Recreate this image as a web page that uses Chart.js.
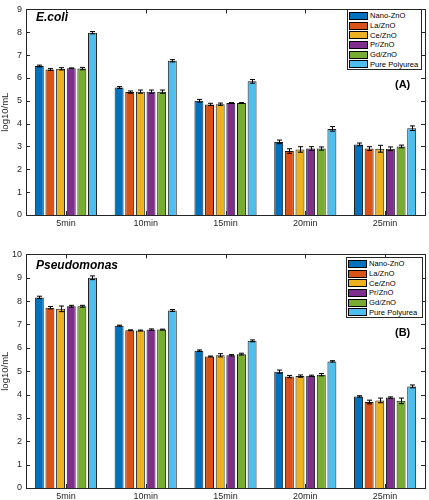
<!DOCTYPE html>
<html lang="en">
<head>
  <meta charset="UTF-8" />
  <title>E.coli / Pseudomonas log10/mL</title>
  <script src="https://cdn.jsdelivr.net/npm/chart.js"></script>
  <style>
    body {
      margin: 0;
      background: #fff;
      font-family: 'Liberation Sans', Arial, sans-serif;
    }
    .panel {
      position: absolute;
      left: 0;
      width: 429px;
    }
    #panelA { top: 0; height: 245px; }
    #panelB { top: 245px; height: 255px; }
    .legend {
      position: absolute;
      background: #fff;
      border: 1px solid #262626;
      box-sizing: border-box;
      padding: 1px 0 0 1px;
    }
    .legend .row {
      display: flex;
      align-items: center;
      height: 9.7px;
      font-size: 7.6px;
      color: #000;
      white-space: nowrap;
    }
    .legend .sw {
      flex: 0 0 auto;
      width: 17px;
      height: 6px;
      border: 1px solid #000;
      margin-right: 2px;
    }
    .organism {
      position: absolute;
      left: 36px;
      font: italic bold 12px 'Liberation Sans', Arial, sans-serif;
      color: #000;
    }
    .tag {
      position: absolute;
      left: 395px;
      font: bold 11px 'Liberation Sans', Arial, sans-serif;
      color: #000;
    }
  </style>
</head>
<body>
  <div class="panel" id="panelA">
    <canvas id="chartA"></canvas>
    <div class="organism" style="top:10px">E.coli</div>
    <div class="legend" id="legendA" style="left:347px; top:9px; width:75px; height:61px"></div>
    <div class="tag" style="top:78px">(A)</div>
  </div>
  <div class="panel" id="panelB">
    <canvas id="chartB"></canvas>
    <div class="organism" style="top:13px">Pseudomonas</div>
    <div class="legend" id="legendB" style="left:346px; top:12px; width:77px; height:61px"></div>
    <div class="tag" style="top:81px">(B)</div>
  </div>
  <script>
    const categories = ['5min', '10min', '15min', '20min', '25min'];
    const seriesNames = ['Nano-ZnO', 'La/ZnO', 'Ce/ZnO', 'Pr/ZnO', 'Gd/ZnO', 'Pure Polyurea'];
    const seriesColors = ['#0072BD', '#D95319', '#EDB120', '#7E2F8E', '#77AC30', '#4DBEEE'];

    // E.coli, one row per series (5min..25min)
    const ecoliValues = [
      [6.52, 5.58, 5.00, 3.20, 3.09],
      [6.37, 5.38, 4.84, 2.80, 2.91],
      [6.40, 5.40, 4.85, 2.87, 2.90],
      [6.42, 5.40, 4.90, 2.91, 2.90],
      [6.41, 5.40, 4.90, 2.91, 3.00],
      [7.98, 6.75, 5.85, 3.77, 3.80]
    ];
    const ecoliErrors = [
      [0.04, 0.04, 0.06, 0.08, 0.06],
      [0.04, 0.05, 0.05, 0.10, 0.08],
      [0.05, 0.07, 0.05, 0.12, 0.15],
      [0.02, 0.07, 0.02, 0.08, 0.08],
      [0.05, 0.07, 0.02, 0.07, 0.06],
      [0.05, 0.05, 0.08, 0.10, 0.10]
    ];

    // Pseudomonas
    const pseudoValues = [
      [8.16, 6.95, 5.88, 4.98, 3.92],
      [7.72, 6.75, 5.63, 4.77, 3.68],
      [7.67, 6.74, 5.68, 4.79, 3.75],
      [7.78, 6.78, 5.68, 4.80, 3.87],
      [7.78, 6.78, 5.73, 4.85, 3.73],
      [9.00, 7.60, 6.30, 5.42, 4.35]
    ];
    const pseudoErrors = [
      [0.05, 0.02, 0.03, 0.07, 0.03],
      [0.05, 0.02, 0.02, 0.05, 0.08],
      [0.12, 0.02, 0.07, 0.05, 0.10],
      [0.04, 0.03, 0.03, 0.03, 0.03],
      [0.04, 0.02, 0.04, 0.05, 0.12],
      [0.08, 0.04, 0.04, 0.03, 0.06]
    ];

    const axisColor = '#262626';

    // error bars + matlab style box with inward ticks
    const matlabAxes = {
      id: 'matlabAxes',
      afterDatasetsDraw(chart) {
        const errs = chart.options.plugins.matlabAxes.errors;
        const ys = chart.scales.y;
        const ctx = chart.ctx;
        ctx.save();
        ctx.strokeStyle = '#000';
        ctx.lineWidth = 1;
        chart.data.datasets.forEach((ds, i) => {
          const meta = chart.getDatasetMeta(i);
          meta.data.forEach((bar, j) => {
            const v = ds.data[j], e = errs[i][j];
            const x = Math.round(bar.x) + 0.5;
            const y1 = ys.getPixelForValue(v + e);
            const y2 = ys.getPixelForValue(v - e);
            ctx.beginPath();
            ctx.moveTo(x, y1); ctx.lineTo(x, y2);
            ctx.moveTo(x - 2.5, y1); ctx.lineTo(x + 2.5, y1);
            ctx.moveTo(x - 2.5, y2); ctx.lineTo(x + 2.5, y2);
            ctx.stroke();
          });
        });
        ctx.restore();
      },
      afterDraw(chart) {
        const a = chart.chartArea;
        const ctx = chart.ctx;
        const xs = chart.scales.x, ys = chart.scales.y;
        ctx.save();
        ctx.strokeStyle = axisColor;
        ctx.lineWidth = 1;
        ctx.strokeRect(Math.round(a.left) + 0.5, Math.round(a.top) + 0.5,
          Math.round(a.right - a.left), Math.round(a.bottom - a.top));
        ctx.beginPath();
        xs.ticks.forEach((t, k) => {
          const x = Math.round(xs.getPixelForTick(k)) + 0.5;
          ctx.moveTo(x, a.bottom); ctx.lineTo(x, a.bottom - 4);
          ctx.moveTo(x, a.top); ctx.lineTo(x, a.top + 4);
        });
        ys.ticks.forEach((t, k) => {
          const y = Math.round(ys.getPixelForTick(k)) + 0.5;
          ctx.moveTo(a.left, y); ctx.lineTo(a.left + 4, y);
          ctx.moveTo(a.right, y); ctx.lineTo(a.right - 4, y);
        });
        ctx.stroke();
        ctx.restore();
      }
    };

    function makeChart(id, values, errors, yMax, padTop, xHeight) {
      return new Chart(document.getElementById(id), {
        type: 'bar',
        data: {
          labels: categories,
          datasets: seriesNames.map((name, i) => ({
            label: name,
            data: values[i],
            backgroundColor: seriesColors[i],
            borderColor: '#1a1a1a',
            borderWidth: 1,
            categoryPercentage: 0.8,
            barPercentage: 0.84
          }))
        },
        options: {
          responsive: true,
          maintainAspectRatio: false,
          animation: false,
          layout: { padding: { top: padTop, right: 4, left: 0, bottom: 0 } },
          plugins: {
            legend: { display: false },
            tooltip: { enabled: false },
            matlabAxes: { errors: errors }
          },
          scales: {
            x: {
              grid: { display: false, drawTicks: false },
              border: { display: false },
              ticks: { color: axisColor, font: { size: 9, family: 'Liberation Sans' }, padding: 3, maxRotation: 0 },
              afterFit: (s) => { s.height = xHeight; }
            },
            y: {
              min: 0,
              max: yMax,
              grid: { display: false, drawTicks: false },
              border: { display: false },
              ticks: { stepSize: 1, color: axisColor, font: { size: 9, family: 'Liberation Sans' }, padding: 4 },
              title: {
                display: true,
                text: 'log10/mL',
                color: axisColor,
                font: { size: 9.5, family: 'Liberation Sans' },
                padding: { top: 0, bottom: 0 }
              },
              afterFit: (s) => { s.width = 26; }
            }
          }
        },
        plugins: [matlabAxes]
      });
    }

    function buildLegend(id) {
      const box = document.getElementById(id);
      box.innerHTML = seriesNames.map((name, i) =>
        `<div class="row"><span class="sw" style="background:${seriesColors[i]}"></span>${name}</div>`
      ).join('');
    }

    makeChart('chartA', ecoliValues, ecoliErrors, 9, 5, 30);
    makeChart('chartB', pseudoValues, pseudoErrors, 10, 7, 12);
    buildLegend('legendA');
    buildLegend('legendB');
  </script>
</body>
</html>
